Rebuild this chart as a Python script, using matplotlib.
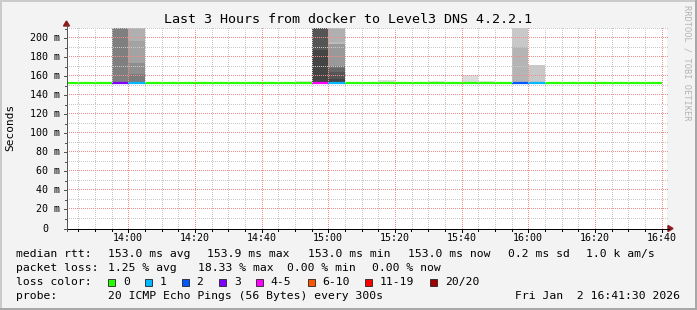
import matplotlib
matplotlib.use('Agg')
import matplotlib.pyplot as plt
import numpy as np
from matplotlib.patches import Rectangle, Polygon
from matplotlib.lines import Line2D

# 5 minute steps, median rtt (ms) and lost pings out of 20
bin_times = ['13:40', '13:45', '13:50', '13:55', '14:00', '14:05', '14:10', '14:15', '14:20',
             '14:25', '14:30', '14:35', '14:40', '14:45', '14:50', '14:55', '15:00', '15:05',
             '15:10', '15:15', '15:20', '15:25', '15:30', '15:35', '15:40', '15:45', '15:50',
             '15:55', '16:00', '16:05', '16:10', '16:15', '16:20', '16:25', '16:30', '16:35']
median_ms = [153.0, 153.0, 153.0, 153.0, 153.0, 153.0, 153.0, 153.0, 153.0,
             153.0, 153.0, 153.0, 153.0, 153.0, 153.0, 153.0, 153.0, 153.0,
             153.0, 153.0, 153.0, 153.0, 153.0, 153.0, 153.0, 153.0, 153.0,
             153.0, 153.0, 153.0, 153.0, 153.0, 153.0, 153.0, 153.0, 153.0]
lost = [0, 0, 0, 3, 1, 0, 0, 0, 0,
        0, 0, 0, 0, 0, 0, 4, 1, 0,
        0, 0, 0, 0, 0, 0, 0, 0, 0,
        2, 1, 0, 0, 0, 0, 0, 0, 0]

# smoke: bands between ping values (ms) and their grey
smoke_times = ['13:55', '14:00', '14:50', '14:55', '15:00', '15:15', '15:30', '15:40', '15:45', '15:55', '16:00']
smoke_edges = [
    [153, 211],
    [153, 154, 162.4, 174.4, 197, 211],
    [153, 155],
    [153, 187.7, 211],
    [153, 154.3, 156.8, 164.8, 168.4, 171, 193.7, 196.5, 211],
    [153, 156],
    [153, 155],
    [153, 161.4],
    [153, 155],
    [153, 190.5, 211],
    [153, 172],
]
smoke_greys = [
    ['#7f7f7f'],
    ['#7b7b7b', '#7b7b7b', '#8e8e8e', '#a3a3a3', '#b0b0b0'],
    ['#e4e4e4'],
    ['#444444', '#555555'],
    ['#444444', '#444444', '#555555', '#666666', '#777777', '#999999', '#bbbbbb', '#b0b0b0'],
    ['#e0e0e0'],
    ['#e6e6e6'],
    ['#dcdcdc'],
    ['#e6e6e6'],
    ['#b4b4b4', '#c8c8c8'],
    ['#c8c8c8'],
]

loss_labels = ['0', '1', '2', '3', '4-5', '6-10', '11-19', '20/20']
loss_colors = ['#26ff00', '#00b8ff', '#0059ff', '#7e00ff', '#ff00ff', '#ff5500', '#ff0000', '#a10000']

y_ticks = [0, 20, 40, 60, 80, 100, 120, 140, 160, 180, 200]
x_ticks = ['14:00', '14:20', '14:40', '15:00', '15:20', '15:40', '16:00', '16:20', '16:40']

title = 'Last 3 Hours from docker to Level3 DNS 4.2.2.1'
rows = [
    ['median rtt:', '153.0 ms avg', '153.9 ms max', '153.0 ms min', '153.0 ms now', '0.2 ms sd', '1.0 k am/s'],
    ['packet loss:', '1.25 % avg', '18.33 % max', '0.00 % min', '0.00 % now'],
]
row_x = [
    [16, 107.6, 207, 307.6, 407.6, 507.6, 585.8],
    [16, 107.6, 198, 286.7, 372.4],
]
probe = '20 ICMP Echo Pings (56 Bytes) every 300s'
stamp = 'Fri Jan  2 16:41:30 2026'


def mins(t):
    h, m = t.split(':')
    return int(h) * 60 + int(m)


def loss_color(n):
    if n <= 3:
        return loss_colors[n]
    if n <= 5:
        return loss_colors[4]
    if n <= 10:
        return loss_colors[5]
    if n <= 19:
        return loss_colors[6]
    return loss_colors[7]


W, H = 697, 310
plt.rcParams['font.family'] = 'DejaVu Sans Mono'

fig = plt.figure(figsize=(W / 100, H / 100), dpi=100, facecolor='#f3f3f3')

def fx(px):
    return px / W

def fy(py):
    return 1 - py / H

x0, x1 = 66.5, 666.5
ytop, ybot = 28.0, 228.5
ax = fig.add_axes([fx(x0), fy(ybot), fx(x1 - x0), (ybot - ytop) / H])
ax.set_facecolor('white')
t_start = mins('16:41') + 0.5 - 180
ymax = 210.8
ax.set_xlim(t_start, t_start + 180)
ax.set_ylim(0, ymax)
ppm = (x1 - x0) / 180
ppv = (ybot - ytop) / ymax

# smoke
for t, edges, greys in zip(smoke_times, smoke_edges, smoke_greys):
    s = mins(t)
    for lo, hi, g in zip(edges[:-1], edges[1:], greys):
        ax.bar(s, hi - lo, width=5, bottom=lo, align='edge', color=g, linewidth=0, zorder=1)

# median coloured by loss
for t, m, n in zip(bin_times, median_ms, lost):
    s = mins(t)
    ax.hlines(m, max(s, t_start), s + 5, color=loss_color(n), linewidth=1.6, zorder=2,
              capstyle='butt')

# dotted grid drawn on top like rrdtool (one pixel on, one off)
ys = np.arange(0, ymax, 2 / ppv)
xs = np.arange(t_start, t_start + 180.5, 2 / ppm)
for m in range(mins('13:45'), mins('16:45'), 5):
    c = '#f08c8c' if m % 20 == 0 else '#c8c8c8'
    ax.plot(np.full(len(ys), m), ys, linestyle='none', marker=',', color=c, zorder=3,
            clip_on=False)
for v in range(10, 211, 10):
    c = '#f08c8c' if v % 20 == 0 else '#c8c8c8'
    ax.plot(xs, np.full(len(xs), v), linestyle='none', marker=',', color=c, zorder=3,
            clip_on=False)

for sp in ax.spines.values():
    sp.set_visible(False)
ax.set_xticks([])
ax.set_yticks([])

# axes lines, ticks and arrows in pixels
def fig_line(xa, ya, xb, yb, color, lw=1.0):
    fig.add_artist(Line2D([fx(xa), fx(xb)], [fy(ya), fy(yb)], color=color, linewidth=lw * 0.72,
                          solid_capstyle='butt', antialiased=False))

fig_line(x0, ybot, 669, ybot, 'black')
fig_line(x0, ybot + 2, x0, 25, '#555555')
for m in range(mins('13:45'), mins('16:45'), 5):
    px = x0 + (m - t_start) * ppm
    fig_line(px, ybot, px, ybot + (3 if m % 20 == 0 else 2), 'black')
for v in range(0, 211, 10):
    py = ybot - v * ppv
    fig_line(x0 - (3 if v % 20 == 0 else 2), py, x0, py, '#555555')

arrow_c = '#8b1a1a'
fig.add_artist(Polygon([[fx(x0 - 3), fy(26)], [fx(x0 + 3), fy(26)], [fx(x0), fy(21)]],
                       closed=True, color=arrow_c, transform=fig.transFigure))
fig.add_artist(Polygon([[fx(668), fy(ybot - 3)], [fx(668), fy(ybot + 3)], [fx(673), fy(ybot)]],
                       closed=True, color=arrow_c, transform=fig.transFigure))

# tick labels
for v in y_ticks:
    py = ybot - v * ppv
    if v == 0:
        fig.text(fx(48), fy(py), '0', ha='right', va='center', fontsize=7.2)
    else:
        fig.text(fx(60), fy(py), f'{v} m', ha='right', va='center', fontsize=7.2)
for lab in x_ticks:
    px = x0 + (mins(lab) - t_start) * ppm
    fig.text(fx(px), fy(238), lab, ha='center', va='center', fontsize=7.2)

fig.text(fx(348), fy(19.5), title, ha='center', va='center', fontsize=9.6)
fig.text(fx(10.7), fy(127), 'Seconds', ha='center', va='center', rotation=90, fontsize=8)
fig.text(fx(687.5), fy(5), 'RRDTOOL / TOBI OETIKER', ha='center', va='top', rotation=270,
         fontsize=6.2, color='#b4b4b4')

# legend block
for row, xs_, py in zip(rows, row_x, [254, 268]):
    for s, px in zip(row, xs_):
        fig.text(fx(px), fy(py), s, ha='left', va='center', fontsize=8.2)

fig.text(fx(16), fy(282), 'loss color:', ha='left', va='center', fontsize=8.2)
sw_x = [108.3, 145, 181.7, 219, 255.7, 307.6, 365.3, 430.2]
for px, lab, c in zip(sw_x, loss_labels, loss_colors):
    fig.add_artist(Rectangle((fx(px), fy(286)), fx(7), 7 / H, facecolor=c, edgecolor='#222222',
                             linewidth=0.6, transform=fig.transFigure))
    fig.text(fx(px + 14.8), fy(282), lab, ha='left', va='center', fontsize=8.2)

fig.text(fx(16), fy(296), 'probe:', ha='left', va='center', fontsize=8.2)
fig.text(fx(107.6), fy(296), probe, ha='left', va='center', fontsize=8.2)
fig.text(fx(680), fy(296), stamp, ha='right', va='center', fontsize=8.2)

# shaded frame
fig_line(0, 1, W, 1, '#cbcbcb', 2)
fig_line(1, 0, 1, H, '#cbcbcb', 2)
fig_line(0, H - 1, W, H - 1, '#a8a8a8', 2)
fig_line(W - 1, 0, W - 1, H, '#a8a8a8', 2)

fig.savefig('out.png', dpi=100, facecolor=fig.get_facecolor())
